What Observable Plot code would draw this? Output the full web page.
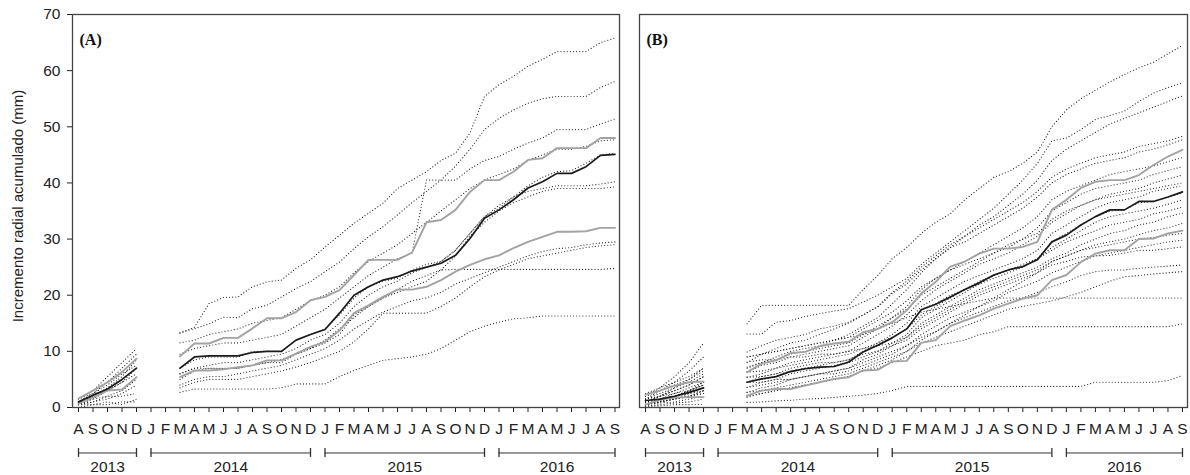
<!DOCTYPE html>
<html>
<head>
<meta charset="utf-8">
<script src="https://cdn.jsdelivr.net/npm/d3@7"></script>
<script src="https://cdn.jsdelivr.net/npm/@observablehq/plot@0.6"></script>
<style>
  html, body { margin: 0; padding: 0; background: #ffffff; }
  #wrap { display: flex; width: 1190px; height: 475px; }
</style>
</head>
<body>
<div id="wrap"></div>
<script>
// ---------- tick labels / categories ----------
const monthLabels = ["A","S","O","N","D",
  "J","F","M","A","M","J","J","A","S","O","N","D",
  "J","F","M","A","M","J","J","A","S","O","N","D",
  "J","F","M","A","M","J","J","A","S"];
const measuredIdx = [0,1,2,3,4,
  7,8,9,10,11,12,13,14,15,16,
  17,18,19,20,21,22,23,24,25,26,27,28,
  29,30,31,32,33,34,35,36,37];
const years = ["2013","2014","2015","2016"];
const yearStart = [0,5,17,29];
const yearEnd = [4,16,28,37];
const yTicks = [0,10,20,30,40,50,60,70];
const panelTags = ["(A)","(B)"];
const yLabel = "Incremento radial acumulado (mm)";

// ---------- panel A ----------
const meanA  = [1.0,2.2,3.3,5.0,7.0, 7.0,9.0,9.2,9.2,9.2,9.8,10.0,10.0,12.0,13.0, 13.9,16.8,20.0,21.5,22.7,23.3,24.3,25.0,25.7,27.1,30.1,33.7, 35.2,37.0,39.1,40.2,41.7,41.7,42.9,44.9,45.1];
const upperA = [1.6,3.0,4.5,6.3,8.7, 9.1,11.4,11.4,12.4,12.4,14.1,15.9,15.9,17.0,19.1, 19.7,20.9,23.6,26.3,26.3,26.3,27.6,33.0,33.4,35.2,38.4,40.5, 40.5,42.0,44.1,44.4,46.2,46.2,46.2,48.0,48.0];
const lowerA = [0.7,1.8,3.0,3.2,5.4, 5.4,6.6,6.6,6.8,7.2,7.5,8.4,8.4,9.6,10.8, 11.7,13.7,16.8,18.2,19.7,21.0,21.0,21.5,22.7,24.2,25.4,26.4, 27.1,28.4,29.5,30.4,31.3,31.3,31.4,32.0,32.0];
const treesA = [
  [1.5,3,5.5,8,10.5, 13.2,14.3,18.5,19.6,19.7,21.5,22.4,22.7,24.8,26.3, 28.6,30.7,32.8,34.6,36.4,39.0,40.5,42.0,44.0,45.3,48.9,55.4, 57.5,59.0,60.8,62.0,63.4,63.4,63.4,65.0,65.8],
  [1,2.5,4.5,7,9.5, 13.4,14.0,14.9,16.1,16.0,17.6,18.2,19.7,21.2,22.4, 24.2,25.9,28.3,30.4,32.2,34.3,36.5,38.5,40.5,43.0,46.0,49.5, 51.5,53.0,54.2,55.0,55.4,55.4,55.4,57.0,58.1],
  [1,2,3.5,5.5,8.5, 9.5,10.5,11,11.5,11.5,12,12.5,13,14.5,16, 17.5,19.5,21.5,23.5,25,26.5,27.5,40.5,40.5,40.5,42.5,44, 44.7,46,47.1,48,49.5,49.5,49.5,50.5,51.4],
  [1.5,2.5,4,6,7.5, 11.5,12,13,13.5,14,15,15.5,16,17.5,19, 20,21.5,24,26,27.5,29,31,33,35,37,39,40.5, 41.5,42.5,44,45,46,46,46.5,47.5,47.7],
  [0.5,1.5,3,4.5,7, 7,8.5,9,9,9,10,10,10,12,13, 14,16.5,19.5,21.5,22.5,23,24.5,25.5,26,28,31,34, 35.5,37.5,39.5,41,42,42.2,43.5,45,45.3],
  [1,2,3,4.5,6, 6,7,7.5,8,8,8.5,9,9.5,10.5,12, 13,15,18,20,21.5,22.5,24,25,26,28,31,34, 36,37.5,38.5,39,39.5,39.5,39.5,39.8,40.2],
  [0.5,1,2,3,5, 5,6.5,7,7,7,7.5,8,8,9.5,10.5, 11.5,13,16.5,18,19.5,20.5,21.5,22.5,24.5,27,30.5,33, 35,36.5,37.5,38.5,39,39,39,39,39.3],
  [0.5,1,1.5,2.5,4, 4,5,5.5,5.5,6,6.5,7,7.5,8.5,9.5, 10.5,12,14,15.5,17,18,19,19.5,20.5,22,23,24, 25,26,27,27.8,28.3,28.5,29,29.3,29.5],
  [1,1.5,2,2,2.5, 3.5,4.5,5,5,5,5.5,6,6.5,7.2,8, 9,10,11.7,14,16.8,16.8,16.8,16.8,18,19.5,21.5,23.3, 24.5,25.5,26.5,27,27.5,28,28.5,28.8,29],
  [0.5,0.5,1,0.5,1.5, 6,7,7,7,7,7.5,8,8.5,9.5,10.5, 12,14,16,18,19.5,21,22.5,23.5,24.5,24.6,24.6,24.6, 24.6,24.6,24.6,24.6,24.6,24.6,24.6,24.6,24.8],
  [0,0.5,0.5,1,1, 2.7,3.3,3.3,3.3,3.3,3.3,3.3,3.5,4.2,4.2, 4.2,5.5,6.6,7.5,8.4,8.7,9,9.5,10.5,12,13.5,14.5, 15.2,15.8,16,16.3,16.3,16.3,16.3,16.3,16.3]
];

// ---------- panel B ----------
const meanB  = [1.25,1.5,2.0,2.7,3.5, 4.5,5.1,5.5,6.4,6.9,7.2,7.3,8.1,9.9,11.1, 12.4,14.0,17.4,18.4,19.7,21.0,22.2,23.6,24.5,25.1,26.3,29.5, 30.7,32.5,34.0,35.2,35.2,36.7,36.7,37.5,38.4];
const upperB = [2.3,3.0,3.9,4.5,4.6, 6.3,7.8,8.4,9.7,9.9,10.9,11.4,11.7,13.4,14.0, 15.2,17.3,20.3,22.4,25.1,26.0,27.4,28.3,28.3,28.6,29.5,35.2, 37.0,39.1,40.2,40.5,40.5,41.4,43.2,44.7,45.9];
const lowerB = [0.5,1.4,1.75,1.85,1.85, 2.1,3.0,3.3,3.3,3.9,4.5,5.1,5.4,6.6,6.7, 8.2,8.3,11.5,12.0,14.5,15.5,16.4,17.6,18.5,19.4,20.0,22.7, 23.6,25.9,27.4,28.0,28.0,30.0,30.1,31.0,31.5];
const treesB = [
  [2,3.5,5.5,8,11.5, 14.9,18.2,18.2,18.2,18.2,18.2,18.2,18.2,21,23.5, 26.5,28.5,31,33,34.5,37,39,41,42,43.5,45.5,50, 53,55,56.5,58,59.3,60.5,61.5,63,64.5],
  [1.5,3,4.5,6.5,9, 13.1,13.1,15.2,15.5,16.2,16.7,17.2,17.6,18.8,20, 21.5,23,25.5,27.5,29.5,31.5,33.5,35.5,38,40.5,43.5,47.5, 48,49.5,51.3,52,52.8,54.5,56,57,57.8],
  [1,2,3.5,5,7, 9.9,11,12,12.5,13,14,14.5,15.2,16.5,17.9, 20.3,22,24.5,26.5,28.5,30.5,32.5,34,36,38,40.5,44, 46,47.5,49,50.5,51.5,52.5,53.5,54.5,55.5],
  [1.5,2.5,3.5,4.5,6, 8,9.5,10.5,11.5,12,13,14,15,16.5,18, 20.5,22.5,25,27,29,30.5,32,33.5,35,36.5,38.5,41, 42.5,43.5,44.5,45,45.5,46.5,47,47.5,48.3],
  [1,2,3,4,5.5, 7,8,9,10,10.5,11,12,13,14.5,16, 18.5,21,24,26.5,28.5,29.5,31,32.5,34,35.5,37.5,40, 41.5,42.5,43.5,44,44.5,45.5,46,46.8,47.7],
  [0.5,1.5,2.5,3.5,4.5, 6.3,7.5,8,9,9.5,10,10.5,11,12.5,14, 16,18,21,23,24.5,26,27.5,29,30.5,32,34,37, 38.5,39.5,40.5,41.5,42,42.5,43,43.8,44.5],
  [2,3,4,5,6.5, 9,9.5,10,10.5,11,11.5,12,12.5,14,15.5, 17,19,21.5,23,24.5,25.5,26.5,27.5,28.5,30,32,35, 36.5,38,39,39.5,40,40.5,41.5,42.2,42.9],
  [1,1.5,2,3,4, 5.4,6,7,8,8.5,9,9.5,10,11.5,13, 14.5,16.5,19,21,22.5,24,25.5,26.5,27.5,29,30.5,33, 34.5,36,37,38,38.5,39,40,40.7,41.4],
  [0.5,1,1.5,2.5,3.5, 4.5,5.5,6,7,7.5,8,8,8.5,10,11.5, 13,15,18,19.5,21,22.5,23.5,24.5,25.5,26.5,28,31, 32.5,34,35.5,36.5,37,37.5,38.5,39,39.5],
  [1,1.5,2,2.5,3.5, 4.5,5,5.5,6.5,7,7.2,7.3,8,10,11, 12.5,14,17.5,18.5,20,21,22,23.5,24.5,25,26.5,29.5, 31,32.5,34,35,35.2,36.5,36.7,37.5,38.2],
  [0.5,1,1.5,2,3, 3.6,4.5,5,6,6.5,7,7.5,8,9,10, 11.5,13,16,17.5,19,20.5,22,23,24,25,26.5,28.5, 30,31.5,33,34,34.5,35,35.5,36.2,37],
  [1.5,2,2.5,3,4, 6.3,6.5,7,7.5,8,8.5,9,9.5,10.5,11.5, 12.5,14,16.5,18,19.5,21,22.5,23.5,24.5,25.5,26.5,28, 29.5,30.5,31.5,32.5,33,33.5,34.5,35,35.7],
  [0.5,1,1.5,2,2.5, 2.7,3.5,4,5,5.5,6,6.5,7,8.5,9.5, 11,12.5,15,16.5,18,19.5,21,22,23,24,25,26.5, 27.5,29,30,31,31.5,32.5,33,34,34.6],
  [1,1.5,2,3,4.5, 5.4,5.5,6,6.5,7,7.5,8,8.5,9.5,10, 11,12,14,15.5,17,18.5,20,21,22,23,24,26, 27,28,29,29.5,30,30.8,31.5,32,32.8],
  [0.5,1,1.5,2,2.5, 3.6,4,4.5,5,5.5,6,6.5,7,8,9, 10,11,13,14.5,16,17,18,19,20.5,21.5,22.5,24, 25,26,27,27.5,28,28.5,29,29.5,29.8],
  [0.5,0.8,1,1.5,2, 1.8,2.5,3,3.5,4,4.5,5,5.5,6.5,7.5, 8.5,10,12,13.5,15,16.5,18,19.5,21,22.5,24,25.4, 26,26.8,27,27.1,27.5,28,28,28.3,28.6],
  [1,1.5,2,2.5,3, 4.5,4.5,5,5,5.5,6,6,6.5,7.5,8.5, 9.5,11,12.5,13.5,15,16,17,18,19,19.5,20.5,21.5, 22.4,23.5,24.2,24.5,24.5,24.8,25,25.2,25.4],
  [0.3,0.5,0.8,1,1.5, 2.7,3,3.5,4,4.5,5,5.5,6,7,8, 9,10,11.5,12.5,13.5,14.5,15.5,16.5,17.5,18,18.5,19, 19.7,20.5,21.5,22.5,23.3,23.5,23.8,24,24.2],
  [1.5,2,3,4,5.5, 9,9.5,10,10.5,11,11.5,12,12.5,13,14, 15,16,17,17.5,18,18.5,19,19.5,19.5,19.5,19.5,19.5, 19.5,19.5,19.5,19.5,19.5,19.5,19.5,19.5,19.5],
  [0.5,1,1.5,2,3, 2,2.5,3,3.5,4,4.5,5,5.5,6.5,7, 8,9,10,11,11.5,12,13,13.5,14.4,14.4,14.4,14.4, 14.4,14.4,14.4,14.4,14.4,14.4,14.4,14.4,14.9],
  [0.2,0.3,0.5,0.5,0.6, 0.9,1.0,1.2,1.3,1.5,1.6,1.8,2.0,2.2,2.5, 3.0,3.75,3.75,3.75,3.75,3.75,3.75,3.75,3.75,3.75,3.75,3.75, 3.75,3.75,4.5,4.5,4.5,4.5,4.5,4.8,5.7],
  [2.5,3.5,4.5,5.5,7, 7.2,8,8.5,9.5,10,10.5,11,11.5,13,14.5, 16,17.5,20,21.5,23,24.5,26,27.5,29,30,31,33.5, 35,36,37,37.5,38,38.5,39,39.5,40],
  [0.8,1.2,2,3,4, 8.1,8.5,8.5,9,9,9.5,9.5,10,10.5,11, 11.5,12.5,14.5,16,17.5,19,20.5,21.5,22.5,23.5,24.5,26, 27,28,28.5,29,29.5,30,30.3,30.7,31]
];

// ---------- helpers ----------
function toRows(vals, key) {
  if (vals.length !== measuredIdx.length) throw new Error(key + " has " + vals.length + " values");
  const out = [];
  vals.forEach((v, k) => {
    out.push({i: measuredIdx[k], v, key});
    if (measuredIdx[k] === 4) out.push({i: 5, v: NaN, key}); // no data Jan-Feb 2014
  });
  return out;
}
const yearRows = years.map((y, k) => ({year: y, start: yearStart[k], end: yearEnd[k]}));
const yearEnds = yearRows.flatMap(d => [d.start, d.end]);
const bracketY = -8.1, bracketTop = -7.3, bracketBottom = -8.9, yearTextY = -10.6;

function panel(o) {
  const treeRows = o.trees.flatMap((t, j) => toRows(t, o.tag + j));
  const marks = [
    Plot.line(treeRows, {x: "i", y: "v", z: "key", stroke: "#1a1a1a", strokeWidth: 1.15,
      strokeDasharray: "0.01,3.1", strokeLinecap: "round"}),
    Plot.line(toRows(o.upper, "u"), {x: "i", y: "v", stroke: "#a3a3a3", strokeWidth: 1.9}),
    Plot.line(toRows(o.lower, "l"), {x: "i", y: "v", stroke: "#a3a3a3", strokeWidth: 1.9}),
    Plot.line(toRows(o.mean, "m"), {x: "i", y: "v", stroke: "#1a1a1a", strokeWidth: 1.7}),
    Plot.frame({stroke: "#444", strokeWidth: 1.3}),
    Plot.ruleY(yearRows, {x1: "start", x2: "end", y: () => bracketY, stroke: "#333", strokeWidth: 1}),
    Plot.ruleX(yearEnds, {x: d => d, y1: () => bracketTop, y2: () => bracketBottom, stroke: "#333", strokeWidth: 1.3}),
    Plot.text(yearRows, {x: d => (d.start + d.end) / 2, y: () => yearTextY, text: "year", fontSize: 15.5, fill: "#222"}),
    Plot.text([o.tag], {frameAnchor: "top-left", dx: 7, dy: 19, text: d => d, textAnchor: "start",
      fontFamily: "'Liberation Serif', 'Times New Roman', serif", fontWeight: "bold", fontSize: 16, fill: "#111"})
  ];
  if (o.showY) marks.push(Plot.text([yLabel], {frameAnchor: "left", dx: -54, dy: -5, rotate: -90,
    text: d => d, textAnchor: "middle", lineAnchor: "middle", fontSize: 15, fill: "#222"}));
  return Plot.plot({
    width: o.width, height: 475,
    marginLeft: o.marginLeft, marginRight: o.marginRight, marginTop: 14, marginBottom: 68,
    style: {fontFamily: "'Liberation Sans', Arial, sans-serif", fontSize: "15.5px", background: "#ffffff", color: "#222", overflow: "visible"},
    x: {type: "linear", domain: o.xDomain, ticks: d3.range(monthLabels.length), tickFormat: i => monthLabels[i], tickSize: 5, tickPadding: 10.5, label: null},
    y: o.showY
      ? {domain: [0, 70], ticks: yTicks, tickSize: 5, tickPadding: 7, label: null}
      : {domain: [0, 70], axis: null},
    marks
  });
}

const wrap = document.getElementById("wrap");
wrap.appendChild(panel({trees: treesA, mean: meanA, upper: upperA, lower: lowerA, tag: panelTags[0],
  width: 625, marginLeft: 72, marginRight: 6, xDomain: [-0.414, 37.31], showY: true}));
wrap.appendChild(panel({trees: treesB, mean: meanB, upper: upperB, lower: lowerB, tag: panelTags[1],
  width: 565, marginLeft: 14, marginRight: 3, xDomain: [-0.414, 37.345], showY: false}));
</script>
</body>
</html>
